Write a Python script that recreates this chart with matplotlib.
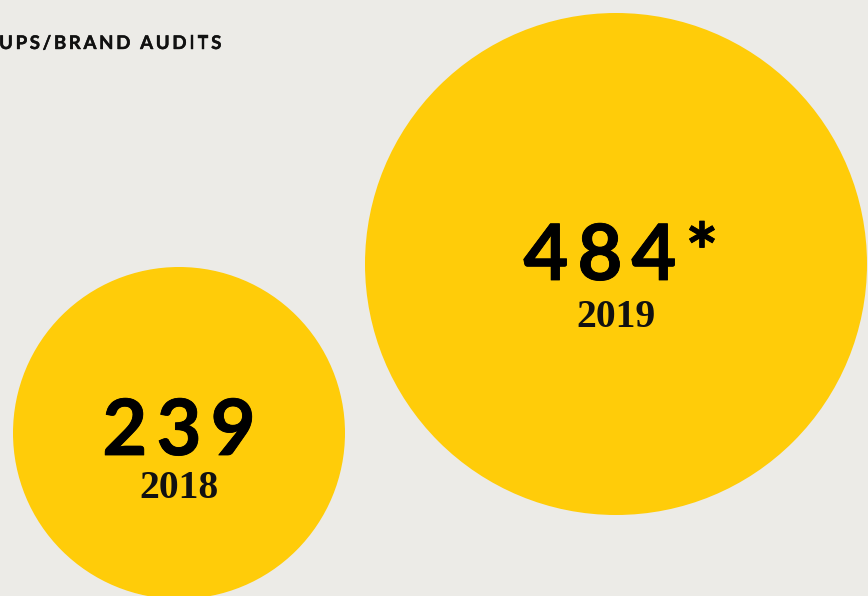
import matplotlib
matplotlib.use('Agg')
import matplotlib.pyplot as plt
import matplotlib.patheffects as pe
from matplotlib.patches import Circle

# data
years = ['2018', '2019']
audits = [239, 484]
audit_labels = ['239', '484*']
title = 'UPS/BRAND AUDITS'

# layout (pixel coords)
centers = [(179, 433), (616, 264)]
radii = [166, 251]
num_y = [455, 280]
year_y = [498, 327]

BG = '#ECEBE7'
YELLOW = '#FFCC09'

fig = plt.figure(figsize=(8.68, 5.96), dpi=100)
fig.patch.set_facecolor(BG)
ax = fig.add_axes([0, 0, 1, 1])
ax.set_xlim(0, 868)
ax.set_ylim(596, 0)
ax.axis('off')
ax.set_facecolor(BG)
renderer = fig.canvas.get_renderer()


def tracked(x, y, s, tracking, ha='center', **kw):
    '''draw string char by char with extra spacing, x is center or left'''
    widths = []
    for ch in s:
        t = ax.text(0, 0, ch, **kw)
        widths.append(t.get_window_extent(renderer).width)
        t.remove()
    total = sum(widths) + tracking * (len(s) - 1)
    cx = x - total / 2 if ha == 'center' else x
    for ch, w in zip(s, widths):
        ax.text(cx, y, ch, ha='left', va='baseline', **kw)
        cx += w + tracking


for (cx, cy), r in zip(centers, radii):
    ax.add_patch(Circle((cx, cy), r, color=YELLOW, lw=0))

thick = [pe.withStroke(linewidth=0.6, foreground='#000000')]
for i, lab in enumerate(audit_labels):
    cx = centers[i][0] + (5 if lab.endswith('*') else 0)
    tracked(cx, num_y[i], lab, 9, family='Lato', fontweight='bold',
            fontsize=56, color='#000000', path_effects=thick)
    ax.text(centers[i][0], year_y[i], years[i], ha='center', va='baseline',
            family='Liberation Serif', fontweight='bold', fontsize=28.5,
            color='#111111')

tracked(-1, 49, title, 2.6, ha='left', family='Lato', fontweight='bold',
        fontsize=13.5, color='#111111',
        path_effects=[pe.withStroke(linewidth=0.3, foreground='#111111')])

fig.savefig('out.png', dpi=100, facecolor=BG)
